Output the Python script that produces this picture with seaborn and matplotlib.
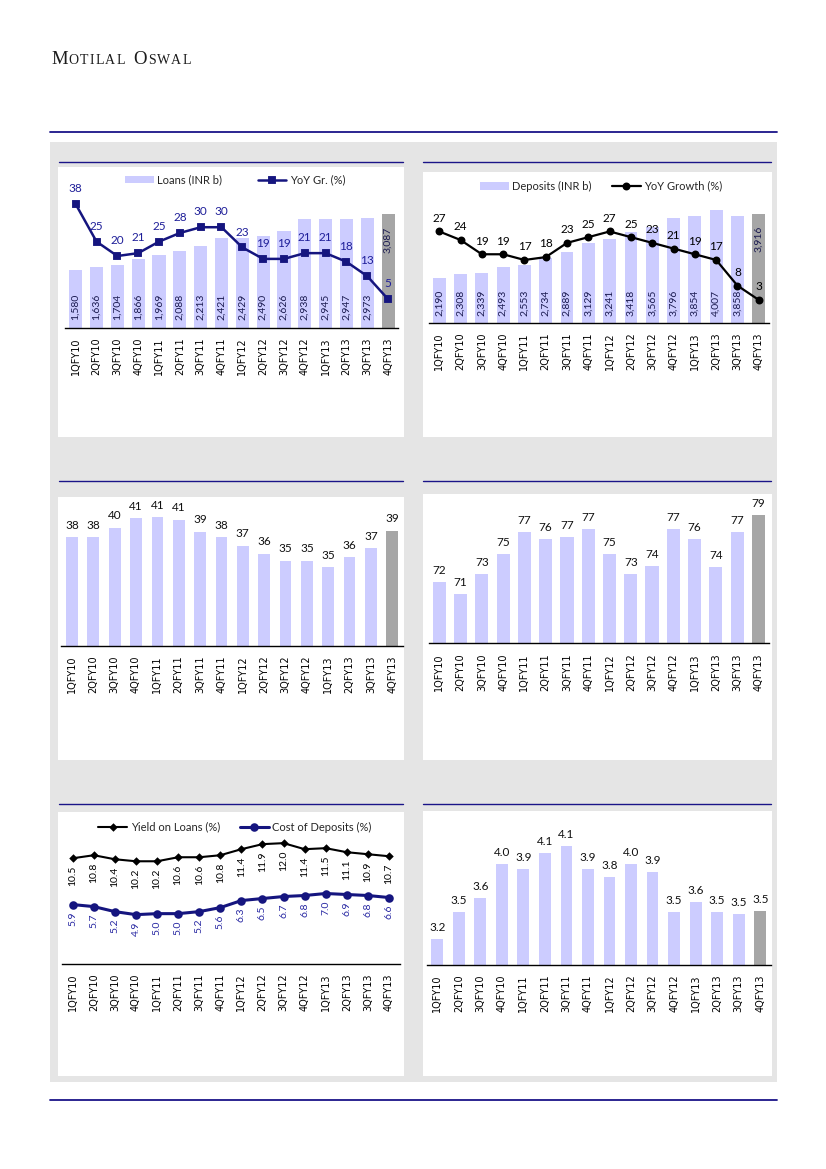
import matplotlib
matplotlib.use("Agg")
import matplotlib.pyplot as plt
import seaborn as sns
from matplotlib.patches import Rectangle
from matplotlib.lines import Line2D

# ---------------- data ----------------
quarters = ['1QFY10', '2QFY10', '3QFY10', '4QFY10', '1QFY11', '2QFY11', '3QFY11', '4QFY11',
            '1QFY12', '2QFY12', '3QFY12', '4QFY12', '1QFY13', '2QFY13', '3QFY13', '4QFY13']

loans = [1580, 1636, 1704, 1866, 1969, 2088, 2213, 2421, 2429, 2490, 2626, 2938, 2945, 2947, 2973, 3087]
loans_yoy = [38, 25, 20, 21, 25, 28, 30, 30, 23, 19, 19, 21, 21, 18, 13, 5]

deposits = [2190, 2308, 2339, 2493, 2553, 2734, 2889, 3129, 3241, 3418, 3565, 3796, 3854, 4007, 3858, 3916]
deposits_yoy = [27, 24, 19, 19, 17, 18, 23, 25, 27, 25, 23, 21, 19, 17, 8, 3]

casa_ratio = [38.4, 38.4, 39.6, 40.8, 40.9, 40.6, 39.1, 38.4, 37.3, 36.3, 35.4, 35.4, 34.6, 35.9, 37.0, 39.2]
cd_ratio = [72.1, 70.9, 72.9, 74.9, 77.1, 76.4, 76.6, 77.4, 74.9, 72.9, 73.7, 77.4, 76.4, 73.6, 77.1, 78.8]

yield_on_loans = [10.5, 10.8, 10.4, 10.2, 10.2, 10.6, 10.6, 10.8, 11.4, 11.9, 12.0, 11.4, 11.5, 11.1, 10.9, 10.7]
cost_of_deposits = [5.9, 5.7, 5.2, 4.9, 5.0, 5.0, 5.2, 5.6, 6.3, 6.5, 6.7, 6.8, 7.0, 6.9, 6.8, 6.6]

nim = [3.21, 3.48, 3.62, 3.96, 3.91, 4.07, 4.14, 3.91, 3.83, 3.96, 3.88, 3.48, 3.58, 3.48, 3.46, 3.49]

series_names = {
    'loans': 'Loans (INR b)', 'loans_yoy': 'YoY Gr. (%)',
    'deposits': 'Deposits (INR b)', 'deposits_yoy': 'YoY Growth (%)',
    'yield': 'Yield on Loans (%)', 'cost': 'Cost of Deposits (%)',
}

# ---------------- styling ----------------
sns.set_style("white")
plt.rcParams['font.family'] = ['Lato', 'DejaVu Sans']

W, H = 826, 1169
LAV = '#CCCCFF'
GREY_BAR = '#A6A6A6'
NAVY = '#1A1488'
LINE_NAVY = '#15157F'
PANEL = '#E5E5E5'
pal = [LAV] * (len(quarters) - 1) + [GREY_BAR]

fig = plt.figure(figsize=(W / 100, H / 100), dpi=100)
fig.patch.set_facecolor('white')


def frect(x0, y0, x1, y1):
    return [x0 / W, 1 - y1 / H, (x1 - x0) / W, (y1 - y0) / H]


def add_rect(x0, y0, x1, y1, color):
    fig.patches.append(Rectangle((x0 / W, 1 - y1 / H), (x1 - x0) / W, (y1 - y0) / H,
                                 transform=fig.transFigure, facecolor=color,
                                 edgecolor='none', zorder=-10))


def hline(y, x0, x1, lw):
    fig.lines.append(Line2D([x0 / W, x1 / W], [1 - y / H, 1 - y / H],
                            transform=fig.transFigure, color=NAVY, lw=lw))


def style(ax):
    ax.set_facecolor('none')
    for s in ['top', 'right', 'left']:
        ax.spines[s].set_visible(False)
    ax.spines['bottom'].set_color('black')
    ax.spines['bottom'].set_linewidth(1.0)
    ax.set_yticks([])
    ax.set_ylabel('')
    ax.set_xlabel('')
    ax.set_xlim(-0.5, len(quarters) - 0.5)
    ax.tick_params(axis='x', length=0, pad=7, labelrotation=90, labelsize=7, colors='black')
    for t in ax.get_xticklabels():
        t.set_fontfamily('DejaVu Sans')


def clean_twin(ax2):
    ax2.set_facecolor('none')
    for s in ax2.spines.values():
        s.set_visible(False)
    ax2.set_yticks([])
    ax2.set_ylabel('')


# ---------------- page decoration ----------------
add_rect(50, 142, 776.5, 1082, PANEL)
add_rect(58, 167, 404, 437, 'white')
add_rect(423, 172, 772, 437, 'white')
add_rect(58, 497, 404, 760, 'white')
add_rect(423, 494, 772, 760, 'white')
add_rect(58, 812, 404, 1076, 'white')
add_rect(423, 811, 772, 1076, 'white')
hline(131.5, 50, 776.5, 1.3)
hline(1100, 50, 776.5, 1.3)
for y in (162.3, 481, 804):
    hline(y, 59, 403, 1.0)
    hline(y, 423, 771, 1.0)

# header in small caps
renderer = fig.canvas.get_renderer()
letters = [('M', 13.5), ('O', 10), ('T', 10), ('I', 10), ('L', 10), ('A', 10), ('L', 10), (' ', 0),
           ('O', 13.5), ('S', 10), ('W', 10), ('A', 10), ('L', 10)]
xpos = 51
for ch, size in letters:
    if ch == ' ':
        xpos += 7
        continue
    t = fig.text(xpos / W, 1 - 64.5 / H, ch, fontsize=size, family='Liberation Serif',
                 ha='left', va='baseline', color='#1c1c1c')
    bb = t.get_window_extent(renderer)
    xpos = bb.x1 + 1.2

# ---------------- chart 1: loans ----------------
ax = fig.add_axes(frect(65.3, 180, 398.5, 328))
sns.barplot(x=quarters, y=loans, hue=quarters, palette=pal, legend=False, width=0.63,
            saturation=1, linewidth=0, ax=ax)
ax.set_ylim(0, 4000)
ax2 = ax.twinx()
n0 = len(ax2.lines)
sns.pointplot(x=quarters, y=loans_yoy, ax=ax2, color=LINE_NAVY, marker='s', markersize=5,
              linewidth=1.8, errorbar=None)
ax2.set_ylim(-5, 46.4)
yoy_line = ax2.lines[n0]
style(ax)
clean_twin(ax2)
ylo = ax.get_ylim()[0]
for i, v in enumerate(loans):
    if i == len(loans) - 1:
        ax.annotate(f'{v:,}', (i, v), xytext=(0, -9), textcoords='offset points', rotation=90,
                    ha='center', va='top', fontsize=7.5, color='#1a1a50')
    else:
        ax.annotate(f'{v:,}', (i, ylo), xytext=(0, 6), textcoords='offset points', rotation=90,
                    ha='center', va='bottom', fontsize=7.5, color='#1a1a50')
for i, v in enumerate(loans_yoy):
    ax2.annotate(f'{v}', (i, v), xytext=(0, 7), textcoords='offset points',
                 ha='center', va='bottom', fontsize=8.5, color='#1f1f99')
fig.legend(handles=[ax.patches[0], yoy_line],
           labels=[series_names['loans'], series_names['loans_yoy']],
           loc='center', bbox_to_anchor=(235 / W, 1 - 180 / H), ncol=2, frameon=False,
           fontsize=8, handlelength=2.6, handletextpad=0.3, columnspacing=3.2)

# ---------------- chart 2: deposits ----------------
ax = fig.add_axes(frect(428.6, 173, 769.4, 322.7))
sns.barplot(x=quarters, y=deposits, hue=quarters, palette=pal, legend=False, width=0.6,
            saturation=1, linewidth=0, ax=ax)
ax.set_ylim(1000, 5000)
ax2 = ax.twinx()
n0 = len(ax2.lines)
sns.pointplot(x=quarters, y=deposits_yoy, ax=ax2, color='black', marker='o', markersize=4.5,
              linewidth=1.6, errorbar=None)
ax2.set_ylim(-5, 47.5)
dep_line = ax2.lines[n0]
style(ax)
clean_twin(ax2)
ylo = ax.get_ylim()[0]
for i, v in enumerate(deposits):
    if i == len(deposits) - 1:
        ax.annotate(f'{v:,}', (i, v), xytext=(0, -9), textcoords='offset points', rotation=90,
                    ha='center', va='top', fontsize=7.5, color='#1a1a50')
    else:
        ax.annotate(f'{v:,}', (i, ylo), xytext=(0, 4.5), textcoords='offset points', rotation=90,
                    ha='center', va='bottom', fontsize=7.5, color='#1a1a50')
for i, v in enumerate(deposits_yoy):
    ax2.annotate(f'{v}', (i, v), xytext=(0, 5.5), textcoords='offset points',
                 ha='center', va='bottom', fontsize=8.5, color='black')
fig.legend(handles=[ax.patches[0], dep_line],
           labels=[series_names['deposits'], series_names['deposits_yoy']],
           loc='center', bbox_to_anchor=(601 / W, 1 - 186 / H), ncol=2, frameon=False,
           fontsize=8, handlelength=2.6, handletextpad=0.3, columnspacing=1.8)

# ---------------- chart 3: ratio (38-41) ----------------
ax = fig.add_axes(frect(61.3, 496, 402.9, 646))
sns.barplot(x=quarters, y=casa_ratio, hue=quarters, palette=pal, legend=False, width=0.55,
            saturation=1, linewidth=0, ax=ax)
ax.set_ylim(24.6, 43.6)
style(ax)
for i, v in enumerate(casa_ratio):
    ax.annotate(f'{v:.0f}', (i, v), xytext=(0, 4.5), textcoords='offset points',
                ha='center', va='bottom', fontsize=8.5, color='#111111')

# ---------------- chart 4: ratio (71-79) ----------------
ax = fig.add_axes(frect(428.7, 493.3, 769, 643.3))
sns.barplot(x=quarters, y=cd_ratio, hue=quarters, palette=pal, legend=False, width=0.62,
            saturation=1, linewidth=0, ax=ax)
ax.set_ylim(66, 81)
style(ax)
for i, v in enumerate(cd_ratio):
    ax.annotate(f'{v:.0f}', (i, v), xytext=(0, 4.5), textcoords='offset points',
                ha='center', va='bottom', fontsize=8.5, color='#111111')

# ---------------- chart 5: yield / cost ----------------
ax = fig.add_axes(frect(62.2, 823, 399.5, 964))
n0 = len(ax.lines)
sns.pointplot(x=quarters, y=yield_on_loans, ax=ax, color='black', marker='D', markersize=3.2,
              linewidth=1.5, errorbar=None)
yl_line = ax.lines[n0]
n1 = len(ax.lines)
sns.pointplot(x=quarters, y=cost_of_deposits, ax=ax, color=LINE_NAVY, marker='o', markersize=4.5,
              linewidth=2.2, errorbar=None)
cd_line = ax.lines[n1]
ax.set_ylim(0, 14)
style(ax)
for i, v in enumerate(yield_on_loans):
    ax.annotate(f'{v:.1f}', (i, v), xytext=(0, -5.5), textcoords='offset points', rotation=90,
                ha='center', va='top', fontsize=7.5, color='black')
for i, v in enumerate(cost_of_deposits):
    ax.annotate(f'{v:.1f}', (i, v), xytext=(0, -5), textcoords='offset points', rotation=90,
                ha='center', va='top', fontsize=7.5, color='#2929A3')
fig.legend(handles=[yl_line, cd_line],
           labels=[series_names['yield'], series_names['cost']],
           loc='center', bbox_to_anchor=(235 / W, 1 - 827 / H), ncol=2, frameon=False,
           fontsize=8, handlelength=2.6, handletextpad=0.3, columnspacing=1.8)

# ---------------- chart 6: margin ----------------
ax = fig.add_axes(frect(426.5, 815, 771, 965))
sns.barplot(x=quarters, y=nim, hue=quarters, palette=pal, legend=False, width=0.55,
            saturation=1, linewidth=0, ax=ax)
ax.set_ylim(2.95, 4.45)
style(ax)
for i, v in enumerate(nim):
    ax.annotate(f'{v:.1f}', (i, v), xytext=(0, 4.5), textcoords='offset points',
                ha='center', va='bottom', fontsize=8.5, color='#111111')

fig.savefig('out.png', dpi=100)
